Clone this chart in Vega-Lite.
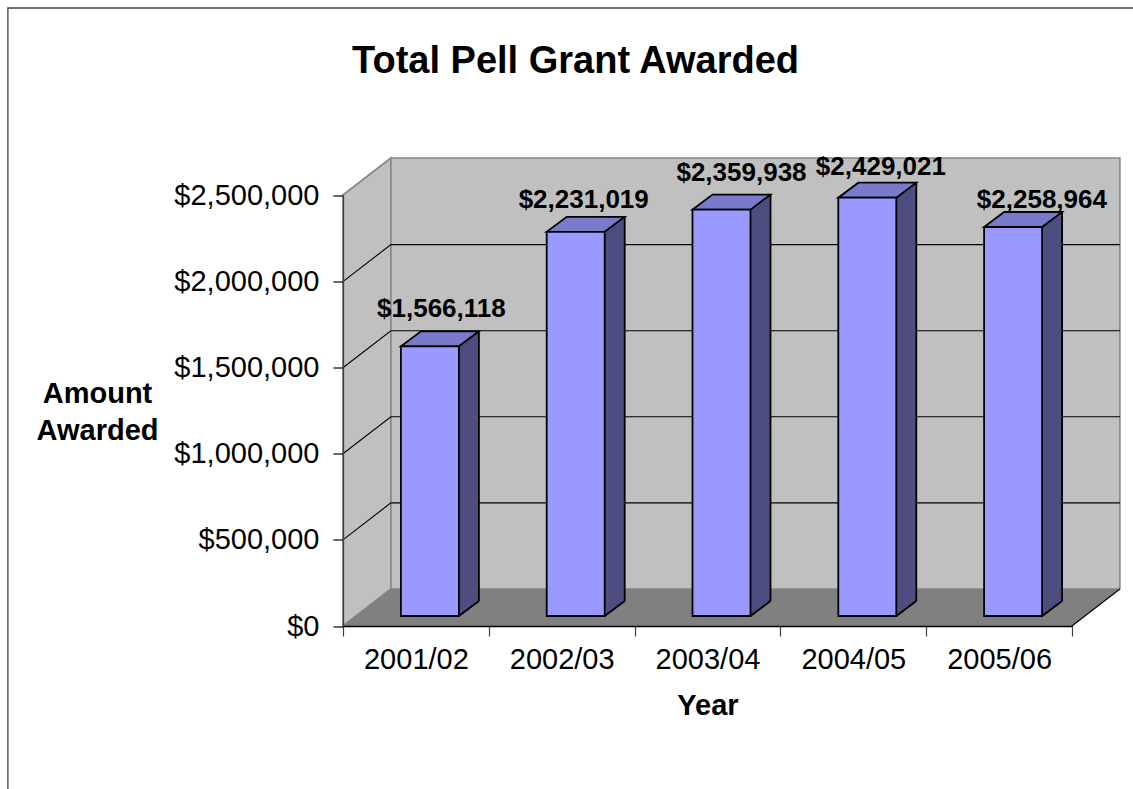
{
"$schema":"https://vega.github.io/schema/vega-lite/v6.json",
"width":729,"height":430.5,
"autosize":"none",
"padding":{"left":343,"top":195.5,"right":61,"bottom":163},
"background":"white",
"title":{"text":"Total Pell Grant Awarded","font":"Liberation Sans","fontSize":38,"fontWeight":"bold","color":"black","anchor":"middle","dx":-132,"offset":-75.5,"frame":"group"},
"datasets":{
"bars":[
{"year":"2001/02","amount":1566118},
{"year":"2002/03","amount":2231019},
{"year":"2003/04","amount":2359938},
{"year":"2004/05","amount":2429021},
{"year":"2005/06","amount":2258964}],
"origin":[{"year":"2001/02","amount":0}],
"grid":[{"year":"2001/02","amount":500000},{"year":"2001/02","amount":1000000},{"year":"2001/02","amount":1500000},{"year":"2001/02","amount":2000000}]
},
"data":{"name":"bars"},
"encoding":{
"x":{"field":"year","type":"nominal","scale":{"type":"band","paddingInner":0,"paddingOuter":0,"domain":["2001/02","2002/03","2003/04","2004/05","2005/06"]},
"axis":{"title":"Year","titleFont":"Liberation Sans","titleFontSize":29,"titleFontWeight":"bold","titleColor":"black","titlePadding":17,"labelFont":"Liberation Sans","labelFontSize":29,"labelColor":"black","labelAngle":0,"labelPadding":9,"tickSize":10,"tickColor":"#404040","tickWidth":1.2,"tickBand":"extent","domainColor":"black","domainWidth":1.3,"grid":false,"zindex":1}},
"y":{"field":"amount","type":"quantitative","scale":{"domain":[0,2500000],"nice":false},
"axis":{"values":[0,500000,1000000,1500000,2000000,2500000],"format":"$,.0f","title":["Amount","Awarded"],"titleAngle":0,"titleFont":"Liberation Sans","titleFontSize":29,"titleFontWeight":"bold","titleColor":"black","titleLineHeight":37,"titleX":-246,"titleY":198,"titleAlign":"center","titleBaseline":"middle","labelFont":"Liberation Sans","labelFontSize":29,"labelColor":"black","labelPadding":14,"tickSize":10,"tickColor":"black","tickWidth":1.2,"domainColor":"#404040","domainWidth":1.3,"grid":false,"zindex":1}}
},
"layer":[
{"data":{"name":"origin"},"mark":{"type":"point","filled":false,"size":4,"strokeWidth":1.3,"stroke":"#404040","opacity":1,"shape":"M-408,168L-408,-618L722,-618"}},
{"data":{"name":"origin"},"mark":{"type":"point","filled":true,"size":4,"fill":"#C0C0C0","opacity":1,"stroke":"#868686","strokeWidth":1.6,"shape":"M-73,0L-25,-37L-25,-468L-73,-431Z"}},
{"data":{"name":"origin"},"mark":{"type":"point","filled":true,"size":4,"fill":"#C0C0C0","opacity":1,"stroke":"#868686","strokeWidth":1.6,"shape":"M-25,-37L-25,-468L704,-468L704,-37Z"}},
{"data":{"name":"origin"},"mark":{"type":"point","filled":true,"size":4,"fill":"#808080","opacity":1,"shape":"M-73,0L-25,-37L704,-37L656,0Z"}},
{"data":{"name":"origin"},"mark":{"type":"point","filled":false,"size":4,"stroke":"black","opacity":1,"strokeWidth":1.2,"shape":"M656,0L704,-37"}},
{"data":{"name":"grid"},"mark":{"type":"point","filled":false,"size":4,"stroke":"black","opacity":1,"strokeWidth":1.1,"shape":"M-73,0L-25,-37L704,-37"}},
{"mark":{"type":"bar","size":20,"xOffset":53,"yOffset":-10,"y2Offset":-25,"fill":"#4D4D80","stroke":null},"encoding":{"y2":{"datum":0}}},
{"mark":{"type":"point","filled":true,"size":4,"opacity":1,"fill":"#4D4D80","shape":"M43,-10L63,-25L63,-8L43,-8Z"}},
{"mark":{"type":"point","filled":true,"size":4,"opacity":1,"fill":"#4D4D80","shape":"M43,-10L63,-25L63,-27L43,-27Z"},"encoding":{"y":{"datum":0}}},
{"mark":{"type":"point","filled":false,"size":4,"opacity":1,"stroke":"black","strokeWidth":1.8,"shape":"M43,-10L63,-25"},"encoding":{"y":{"datum":0}}},
{"mark":{"type":"rule","xOffset":63,"yOffset":-25,"y2Offset":-25,"stroke":"black","strokeWidth":1.8},"encoding":{"y2":{"datum":0}}},
{"mark":{"type":"point","filled":true,"size":4,"opacity":1,"fill":"#7A7ACC","stroke":"black","strokeWidth":1.8,"shape":"M43,-10L63,-25L5,-25L-15,-10Z"}},
{"mark":{"type":"bar","size":58,"xOffset":14,"yOffset":-10,"y2Offset":-10,"fill":"#9999FF","stroke":"black","strokeWidth":1.8},"encoding":{"y2":{"datum":0}}},
{"transform":[{"filter":"datum.year==='2001/02'"}],"mark":{"type":"text","font":"Liberation Sans","fontSize":26,"fontWeight":"bold","color":"black","align":"center","baseline":"middle","dx":25.5,"dy":-47},"encoding":{"text":{"field":"amount","type":"quantitative","format":"$,.0f"}}},
{"transform":[{"filter":"datum.year==='2002/03'"}],"mark":{"type":"text","font":"Liberation Sans","fontSize":26,"fontWeight":"bold","color":"black","align":"center","baseline":"middle","dx":22,"dy":-42},"encoding":{"text":{"field":"amount","type":"quantitative","format":"$,.0f"}}},
{"transform":[{"filter":"datum.year==='2003/04'"}],"mark":{"type":"text","font":"Liberation Sans","fontSize":26,"fontWeight":"bold","color":"black","align":"center","baseline":"middle","dx":34,"dy":-47},"encoding":{"text":{"field":"amount","type":"quantitative","format":"$,.0f"}}},
{"transform":[{"filter":"datum.year==='2004/05'"}],"mark":{"type":"text","font":"Liberation Sans","fontSize":26,"fontWeight":"bold","color":"black","align":"center","baseline":"middle","dx":27.6,"dy":-41},"encoding":{"text":{"field":"amount","type":"quantitative","format":"$,.0f"}}},
{"transform":[{"filter":"datum.year==='2005/06'"}],"mark":{"type":"text","font":"Liberation Sans","fontSize":26,"fontWeight":"bold","color":"black","align":"center","baseline":"middle","dx":42.8,"dy":-37},"encoding":{"text":{"field":"amount","type":"quantitative","format":"$,.0f"}}}
]
}
